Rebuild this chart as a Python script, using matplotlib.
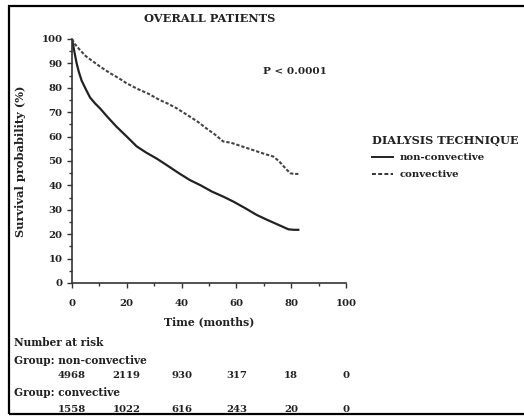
import numpy as np
import matplotlib.pyplot as plt
import matplotlib
from matplotlib.patches import Rectangle
from matplotlib.ticker import MultipleLocator
import matplotlib.transforms as mtransforms

matplotlib.rcParams['font.family'] = 'DejaVu Serif'
matplotlib.rcParams['font.weight'] = 'bold'

# survival curves (months, %)
t_noncon = [0, 0.5, 1.0, 1.7, 2.5, 3.5, 5, 6.6, 8.5, 10.2, 13, 16.3, 20, 23.6, 27, 30.9, 35, 39, 43, 47, 51, 55.2, 59, 63, 67.4, 71, 75, 79, 81, 82.6]
s_noncon = [100, 97, 94, 90, 86.5, 83, 79.5, 76, 73.5, 71.6, 68, 64, 60, 56, 53.5, 51, 48, 45, 42.2, 40, 37.5, 35.4, 33.3, 30.8, 27.9, 26, 24, 22, 21.8, 21.8]
t_con = [0, 1, 2.9, 5, 7.8, 10.5, 13.9, 17, 20, 24, 28, 32, 35, 38.2, 43, 46, 49, 52, 55.2, 58, 62, 66, 70, 73.5, 75.5, 77.5, 79.6, 81, 82.6]
s_con = [100, 98, 95.5, 93, 90.7, 88.5, 86, 84, 81.8, 79.5, 77.5, 75, 73.5, 71.6, 68.2, 66, 63.4, 61, 58, 57.5, 56, 54.5, 53, 51.8, 50, 47.5, 45, 44.7, 44.7]

risk_times = [0, 20, 40, 60, 80, 100]
risk_noncon = [4968, 2119, 930, 317, 18, 0]
risk_con = [1558, 1022, 616, 243, 20, 0]

W, H = 524, 417
fig = plt.figure(figsize=(W / 100, H / 100), dpi=100)
ax = fig.add_axes([72 / W, 1 - 283 / H, 274 / W, 244 / H])

ink = '#222222'
ax.plot(t_noncon, s_noncon, color=ink, lw=1.6, label='non-convective')
ax.plot(t_con, s_con, color='#444444', lw=1.5, ls=(0, (1.6, 0.9)), label='convective')

ax.set_xlim(0, 100)
ax.set_ylim(0, 100)
ax.spines['top'].set_visible(False)
ax.spines['right'].set_visible(False)
for sp in ['left', 'bottom']:
    ax.spines[sp].set_linewidth(1.2)
    ax.spines[sp].set_color('#333333')
ax.xaxis.set_major_locator(MultipleLocator(20))
ax.xaxis.set_minor_locator(MultipleLocator(10))
ax.yaxis.set_major_locator(MultipleLocator(10))
ax.yaxis.set_minor_locator(MultipleLocator(5))
ax.tick_params(which='major', direction='out', length=3.8, width=1, labelsize=7.3, colors='#333333', pad=3)
ax.tick_params(which='minor', direction='out', length=2, width=1, colors='#333333')
ax.tick_params(axis='x', pad=8)
for lab in ax.get_xticklabels() + ax.get_yticklabels():
    lab.set_fontweight('bold')
    lab.set_color(ink)

ax.set_ylabel('Survival probability (%)', fontsize=8.2, fontweight='bold', labelpad=11, color=ink)
ax.set_xlabel('Time (months)', fontsize=7.8, fontweight='bold', labelpad=6, color=ink)

fig.text(210 / W, 1 - 19 / H, 'OVERALL PATIENTS', fontsize=8.2, fontweight='bold', ha='center', va='center', color=ink)
fig.text(263 / W, 1 - 72 / H, 'P < 0.0001', fontsize=7.5, fontweight='bold', ha='left', va='center', color=ink)

# legend written by hand
fig.text(372 / W, 1 - 140 / H, 'DIALYSIS TECHNIQUE', fontsize=8.2, fontweight='bold', ha='left', va='center', color=ink)
fig.text(400 / W, 1 - 157 / H, 'non-convective', fontsize=7.3, fontweight='bold', ha='left', va='center', color=ink)
fig.text(400 / W, 1 - 174 / H, 'convective', fontsize=7.3, fontweight='bold', ha='left', va='center', color=ink)
fig.add_artist(plt.Line2D([372 / W, 393 / W], [1 - 157 / H, 1 - 157 / H], color=ink, lw=1.4))
fig.add_artist(plt.Line2D([372 / W, 393 / W], [1 - 174 / H, 1 - 174 / H], color='#333333', lw=1.4, ls=(0, (2, 1.2))))

# number at risk table
fig.text(14 / W, 1 - 343 / H, 'Number at risk', fontsize=7.6, fontweight='bold', ha='left', va='center', color=ink)
fig.text(14 / W, 1 - 360 / H, 'Group: non-convective', fontsize=7.6, fontweight='bold', ha='left', va='center', color=ink)
fig.text(14 / W, 1 - 393 / H, 'Group: convective', fontsize=7.6, fontweight='bold', ha='left', va='center', color=ink)
trans = mtransforms.blended_transform_factory(ax.transData, fig.transFigure)
for t, n1, n2 in zip(risk_times, risk_noncon, risk_con):
    ax.text(t, 1 - 376 / H, str(n1), transform=trans, fontsize=7.3, fontweight='bold', ha='center', va='center', color=ink, clip_on=False)
    ax.text(t, 1 - 409 / H, str(n2), transform=trans, fontsize=7.3, fontweight='bold', ha='center', va='center', color=ink, clip_on=False)

# outer frame
fig.add_artist(Rectangle((9 / W, 1 - 414 / H), 530 / W, 408 / H, transform=fig.transFigure,
                         fill=False, edgecolor='black', lw=1.6))

fig.savefig('out.png', dpi=100)
